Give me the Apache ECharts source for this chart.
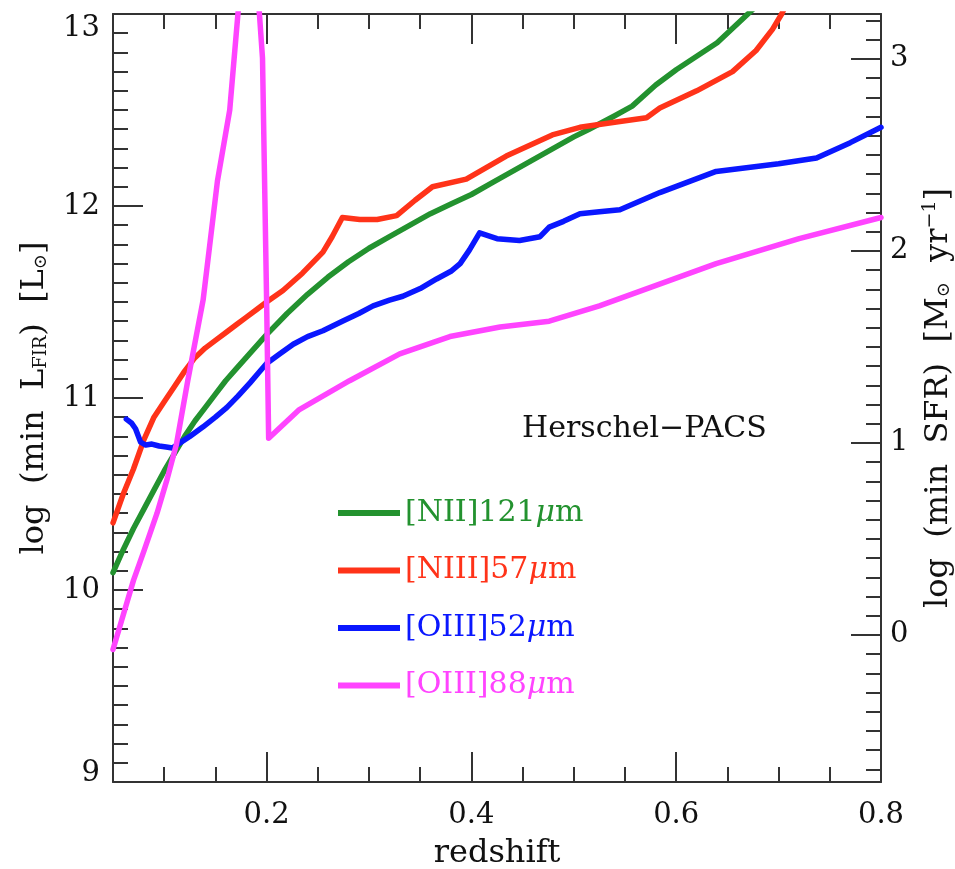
<!DOCTYPE html>
<html><head><meta charset="utf-8">
<script src="https://cdn.jsdelivr.net/npm/echarts@6/dist/echarts.min.js"></script>
<style>html,body{margin:0;padding:0;background:#fff}#c{width:955px;height:869px}</style>
</head><body><div id="c"></div>
<script>
// ---- data ----
const niiZ = [0.05,0.06,0.07,0.08,0.09,0.10,0.11,0.12,0.13,0.14,0.15,0.16,0.17,0.18,0.20,0.22,0.24,0.26,0.28,0.30,0.32,0.34,0.36,0.38,0.40,0.42,0.44,0.46,0.48,0.50,0.515,0.54,0.557,0.58,0.60,0.62,0.64,0.67,0.69];
const niiL = [10.09,10.21,10.32,10.42,10.52,10.62,10.71,10.80,10.88,10.95,11.02,11.09,11.15,11.21,11.33,11.44,11.54,11.63,11.71,11.78,11.84,11.90,11.96,12.01,12.06,12.12,12.18,12.24,12.30,12.36,12.40,12.47,12.52,12.63,12.71,12.78,12.85,13.0,13.1];

const niiiZ = [0.05,0.06,0.07,0.08,0.09,0.10,0.11,0.12,0.13,0.14,0.15,0.16,0.17,0.18,0.19,0.20,0.216,0.235,0.255,0.264,0.274,0.291,0.308,0.327,0.345,0.362,0.395,0.434,0.479,0.506,0.545,0.571,0.584,0.620,0.655,0.678,0.694,0.703,0.71];
const niiiL = [10.35,10.50,10.63,10.78,10.90,10.98,11.06,11.14,11.21,11.26,11.30,11.34,11.38,11.42,11.46,11.50,11.56,11.65,11.76,11.84,11.94,11.93,11.93,11.95,12.03,12.10,12.14,12.26,12.37,12.41,12.44,12.46,12.51,12.60,12.70,12.81,12.92,13.0,13.08];

const oiii52Z = [0.063,0.068,0.072,0.077,0.082,0.088,0.095,0.102,0.108,0.115,0.125,0.138,0.150,0.161,0.172,0.184,0.192,0.200,0.213,0.226,0.240,0.255,0.274,0.290,0.304,0.320,0.333,0.350,0.366,0.380,0.389,0.398,0.408,0.425,0.447,0.467,0.476,0.490,0.506,0.525,0.545,0.584,0.639,0.700,0.737,0.770,0.800];
const oiii52L = [10.89,10.87,10.84,10.77,10.755,10.76,10.75,10.745,10.74,10.765,10.80,10.85,10.90,10.95,11.01,11.08,11.13,11.18,11.23,11.28,11.32,11.35,11.40,11.44,11.48,11.51,11.53,11.57,11.62,11.66,11.70,11.77,11.86,11.83,11.82,11.84,11.89,11.92,11.96,11.97,11.98,12.07,12.18,12.22,12.25,12.33,12.41];

const oiii88Z = [0.05,0.06,0.07,0.08,0.093,0.103,0.112,0.123,0.138,0.152,0.164,0.172,0.183,0.193,0.196,0.200,0.202,0.232,0.281,0.330,0.379,0.428,0.476,0.525,0.577,0.639,0.720,0.800];
const oiii88L = [9.69,9.87,10.05,10.20,10.40,10.58,10.76,11.09,11.51,12.13,12.50,13.0,13.6,13.0,12.77,11.51,10.79,10.94,11.09,11.23,11.32,11.37,11.40,11.48,11.58,11.70,11.83,11.94];

const seriesNames = ['[NII]121\u03bcm','[NIII]57\u03bcm','[OIII]52\u03bcm','[OIII]88\u03bcm'];
const seriesColors = ['#23922f','#ff3319','#0a17ff','#ff44ff'];

const xMajorTicks = [0.2,0.4,0.6,0.8];
const xMinorTicks = [0.1,0.15,0.25,0.3,0.35,0.45,0.5,0.55,0.65,0.7,0.75];
const yMajorTicks = [9,10,11,12,13];
const sfrMajorTicks = [0,1,2,3];
const sfrOffset = 9.766; // log SFR = log L_FIR - 9.766

// ---- build ----
const zip = (a,b) => a.map((v,i)=>[v,b[i]]);
const yMinorTicks = [];
for (let k = 91; k < 130; k++) if (k % 10) yMinorTicks.push(k/10);
const sfrMinorTicks = [];
for (let k = -7; k <= 32; k++) if (k % 10) sfrMinorTicks.push(k/10);

const FONT = 'DejaVu Serif';
const AXC = '#333';
const lineW = 2;
const TICKFS = 29;
const NAMEFS = 32;

function xAx(pos, ticks, len, showLine, labels) {
  return {
    type:'value', position:pos, min:0.05, max:0.8,
    axisLine:{show:showLine, onZero:false, lineStyle:{color:AXC,width:lineW}},
    axisTick:{show:true, inside:true, length:len, customValues:ticks, lineStyle:{color:AXC,width:lineW}},
    axisLabel: labels ? {show:true, customValues:ticks, margin:19, fontFamily:FONT, fontSize:TICKFS, color:'#111', formatter:v=>v.toFixed(1)} : {show:false},
    splitLine:{show:false}
  };
}
function yAx(pos, min, max, ticks, len, showLine, labelCfg, nameCfg) {
  const a = {
    type:'value', position:pos, min:min, max:max,
    axisLine:{show:showLine, onZero:false, lineStyle:{color:AXC,width:lineW}},
    axisTick:{show:true, inside:true, length:len, customValues:ticks, lineStyle:{color:AXC,width:lineW}},
    axisLabel: labelCfg || {show:false},
    splitLine:{show:false}
  };
  if (nameCfg) Object.assign(a, nameCfg);
  return a;
}

const chart = echarts.init(document.getElementById('c'), null, {renderer:'canvas'});
const option = {
  animation:false,
  backgroundColor:'#fff',
  grid:{left:113, top:14, right:74, bottom:87, containLabel:false, outerBoundsMode:'none'},
  title:{
    text:'Herschel\u2212PACS', left:522, top:414, padding:0,
    textStyle:{fontFamily:FONT, fontSize:30, fontWeight:'normal', color:'#111'}
  },
  legend:{
    orient:'vertical', left:338, top:497, padding:0, itemWidth:62, itemHeight:6, itemGap:25.5, icon:'rect',
    textStyle:{fontFamily:FONT, fontSize:30, lineHeight:32,
      rich:{i:{fontStyle:'italic', fontFamily:FONT, fontSize:30, lineHeight:32}}},
    formatter: n => n.replace('\u03bc','{i|\u03bc}'),
    data: seriesNames.map((n,i)=>({name:n, itemStyle:{color:seriesColors[i]}, textStyle:{color:seriesColors[i]}}))
  },
  xAxis:[
    Object.assign(xAx('bottom', xMajorTicks, 30, true, true), {
      name:'redshift', nameLocation:'middle', nameGap:56,
      nameTextStyle:{fontFamily:FONT, fontSize:NAMEFS, color:'#111'}
    }),
    xAx('bottom', xMinorTicks, 15, false, false),
    xAx('top', xMajorTicks, 30, true, false),
    xAx('top', xMinorTicks, 15, false, false)
  ],
  yAxis:[
    yAx('left', 9, 13, yMajorTicks, 30, true, {
      show:true, customValues:yMajorTicks, margin:13, fontFamily:FONT, fontSize:TICKFS, color:'#111',
      showMinLabel:true, showMaxLabel:true,
      formatter: v => v===13 ? '{t|13}' : (v===9 ? '{b|9}' : String(v)),
      rich:{t:{fontFamily:FONT,fontSize:TICKFS,color:'#111',padding:[28,0,0,0]}, b:{fontFamily:FONT,fontSize:TICKFS,color:'#111',padding:[0,0,18,0]}}
    }, {
      name:'log  (min  L{sub|FIR})  [L{sub|\u2299}]', nameLocation:'middle', nameGap:62, nameRotate:90,
      nameTextStyle:{fontFamily:FONT, fontSize:NAMEFS, color:'#111',
        rich:{sub:{fontFamily:FONT, fontSize:18, color:'#111', padding:[12,0,0,0]}}}
    }),
    yAx('left', 9, 13, yMinorTicks, 15, false, null, null),
    yAx('right', 9 - sfrOffset, 13 - sfrOffset, sfrMajorTicks, 30, true, {
      show:true, customValues:sfrMajorTicks, margin:9, fontFamily:FONT, fontSize:TICKFS, color:'#111'
    }, {
      name:'log  (min  SFR)  [M{sub|\u2299}  yr{sup|\u22121}]', nameLocation:'middle', nameGap:40, nameRotate:90,
      nameTextStyle:{fontFamily:FONT, fontSize:NAMEFS, color:'#111',
        rich:{sub:{fontFamily:FONT, fontSize:18, color:'#111', padding:[12,0,0,0]},
              sup:{fontFamily:FONT, fontSize:19, color:'#111', padding:[0,0,16,0]}}}
    }),
    yAx('right', 9 - sfrOffset, 13 - sfrOffset, sfrMinorTicks, 15, false, null, null)
  ],
  series:[
    [niiZ,niiL],[niiiZ,niiiL],[oiii52Z,oiii52L],[oiii88Z,oiii88L]
  ].map((p,i)=>({
    name:seriesNames[i], type:'line', xAxisIndex:0, yAxisIndex:0,
    data:zip(p[0],p[1]), symbol:'none', clip:true, smooth:false,
    lineStyle:{width:5.5, color:seriesColors[i], join:'round', cap:'round'},
    itemStyle:{color:seriesColors[i]}
  }))
};
chart.setOption(option);
</script></body></html>
